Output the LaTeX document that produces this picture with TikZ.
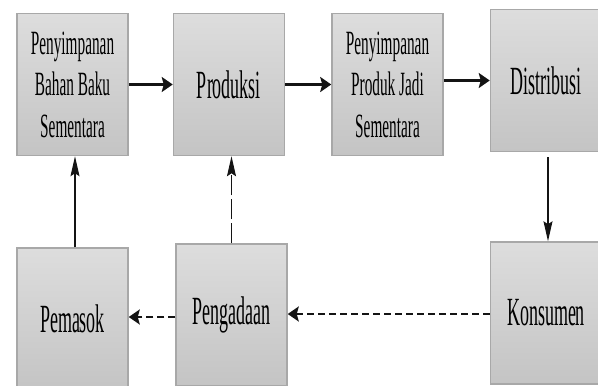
\documentclass[tikz,border=0pt]{standalone}
\usepackage{fontspec}
\setmainfont{Liberation Serif}
\newfontfamily\blokfont[FakeStretch=0.45]{Liberation Serif}
\usepackage{tikz}
\usetikzlibrary{arrows.meta,calc,positioning,shapes}
\tikzset{
  blok_n/.style = {rectangle, draw=my_border, line width=1.5pt, minimum width=111pt,
  minimum height=142pt, inner sep=0pt, top color=my_top, bottom color=my_bottom,
  align=center, text=black},
  blok_k/.style = {blok_n, font=\blokfont\fontsize{34}{41.5}\selectfont},
  blok_b/.style = {blok_n, font=\blokfont\fontsize{40}{44}\selectfont}
}
\definecolor{my_top}{RGB}{221, 221, 221}
\definecolor{my_bottom}{RGB}{196, 196, 196}
\definecolor{my_border}{RGB}{168, 168, 168}
\definecolor{my_black}{RGB}{20, 20, 20}

\begin{document}
\begin{tikzpicture}[x=1pt,y=1pt,
        h_arr/.style={draw=my_black, line width=2.6pt, -{Stealth[length=11pt,width=15pt,inset=2pt]}},
        v_arr/.style={draw=my_black, line width=1.3pt, -{Stealth[length=20pt,width=9pt,inset=3pt]}},
        h_dash/.style={line width=2.2pt, dash pattern=on 7pt off 4pt},
        v_dash/.style={line width=1pt, dash pattern=on 20pt off 4pt}]
        \useasboundingbox (0,0) rectangle (598,-386);
        % baris atas
        \node [blok_k] (sbb) at (72.5,-84.5) {Penyimpanan\\Bahan Baku\\Sementara};
        \node [blok_b, right=44pt of sbb] (prod) {Produksi};
        \node [blok_k, right=46pt of prod] (spj) {Penyimpanan\\Produk Jadi\\Sementara};
        \node [blok_b, right=46pt of spj, yshift=4pt] (dist) {Distribusi};
        % baris bawah
        \node [blok_b, below=89pt of dist] (kons) {Konsumen};
        \node [blok_b, below=87pt of prod, xshift=2.5pt] (peng) {Pengadaan};
        \node [blok_b, below=91pt of sbb] (pem) {Pemasok};
        % aliran
        \draw [h_arr] (sbb) -- (prod);
        \draw [h_arr] (prod) -- (spj);
        \draw [h_arr] (spj.east |- dist.west) -- (dist.west);
        \draw [v_arr, shorten <=5pt] ([xshift=2pt]dist.south) -- ([xshift=2pt]dist.south |- kons.north);
        \draw [v_arr] ([xshift=2.5pt]pem.north) -- ([xshift=2.5pt]pem.north |- sbb.south);
        \draw [v_arr, v_dash] (peng.north) -- (peng.north |- prod.south);
        \draw [h_arr, h_dash] ([yshift=-1pt]kons.west) -- ([yshift=-1pt]kons.west -| peng.east);
        \draw [h_arr, h_dash] ([yshift=-2pt]peng.west) -- ([yshift=-2pt]peng.west -| pem.east);
\end{tikzpicture}
\end{document}
